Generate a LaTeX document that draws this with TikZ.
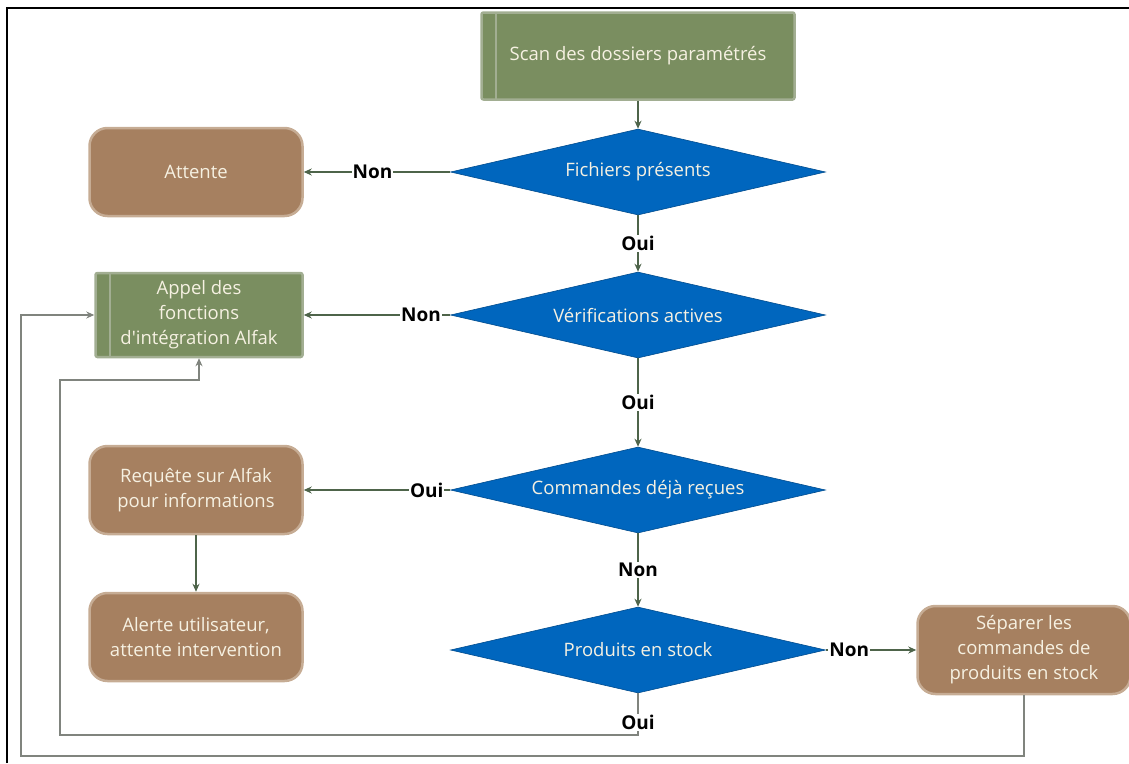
\documentclass[tikz,border=0pt]{standalone}
\usepackage{fontspec}
\setmainfont{Open Sans}
\usetikzlibrary{shapes.geometric,arrows.meta}

\definecolor{boxgreen}{RGB}{122,142,96}
\definecolor{greenedge}{RGB}{162,174,146}
\definecolor{boxbrown}{RGB}{166,128,96}
\definecolor{brownedge}{RGB}{198,172,148}
\definecolor{deciblue}{RGB}{0,102,190}
\definecolor{boxtext}{RGB}{246,241,226}
\definecolor{linkgreen}{RGB}{78,100,74}
\definecolor{loopgray}{RGB}{128,132,126}

\begin{document}
\begin{tikzpicture}
 [x=1pt, y=-1pt,
  process node/.style={rectangle, fill=boxgreen, draw=greenedge, line width=2.5pt, rounded corners=2pt,
    text=boxtext, font=\fontsize{18.5}{25}\selectfont, align=center, inner sep=0pt,
    path picture={\draw[greenedge, line width=2pt] ([xshift=14pt]path picture bounding box.north west) -- ([xshift=14pt]path picture bounding box.south west);}},
  wait node/.style={rectangle, rounded corners=18pt, fill=boxbrown, draw=brownedge, line width=2.5pt,
    text=boxtext, font=\fontsize{18.5}{25}\selectfont, align=center, inner sep=0pt,
    minimum width=213pt, minimum height=88pt},
  test node/.style={diamond, aspect=4.4, fill=deciblue, draw=deciblue!75!black, line width=0.6pt,
    minimum width=375pt, minimum height=86pt, inner sep=0pt, text=boxtext, font=\fontsize{18.5}{22}\selectfont},
  answer/.style={fill=white, inner sep=1pt, font=\bfseries\fontsize{19}{22}\selectfont},
  link/.style={draw=linkgreen, line width=1.2pt, -{Stealth[length=8pt,width=7pt]}},
  back link/.style={draw=loopgray, line width=1.2pt, -{Stealth[length=8pt,width=7pt,fill=linkgreen]}}]

\useasboundingbox (0,0) rectangle (1129,763);
\draw[line width=2.5pt] (7,763) -- (7,8) -- (1129,8);

\node[process node, minimum width=313pt, minimum height=87pt] (scan) at (638,56) {Scan des dossiers paramétrés};
\node[test node] (d1) [node distance=116pt, below of=scan] {Fichiers présents};
\node[test node] (d2) [node distance=143pt, below of=d1] {Vérifications actives};
\node[test node] (d3) [node distance=175pt, below of=d2] {Commandes déjà reçues};
\node[test node] (d4) [node distance=160pt, below of=d3] {Produits en stock};

\node[wait node] (attente) [node distance=442pt, left of=d1] {Attente};
\node[process node, minimum width=207pt, minimum height=84pt] (appel) [node distance=439pt, left of=d2]
  {Appel des\\fonctions\\d\textquotesingle intégration Alfak};
\node[wait node] (requete) [node distance=442pt, left of=d3] {Requête sur Alfak\\pour informations};
\node[wait node] (alerte) [node distance=147pt, below of=requete] {Alerte utilisateur,\\attente intervention};
\node[wait node] (separer) [node distance=386pt, right of=d4] {Séparer les\\commandes de\\produits en stock};

\coordinate (inner corner) at (638,735);
\coordinate (inner left) at (60,380);
\coordinate (outer corner) at (21,756);
\coordinate (outer top) at (21,315);

\path
  (scan) edge [link] (d1)
  (d1) edge [link] node [answer] {Oui} (d2)
  (d2) edge [link] node [answer] {Oui} (d3)
  (d3) edge [link] node [answer] {Non} (d4)
  (d1) edge [link] node [answer, pos=0.53] {Non} (attente)
  (d2) edge [link] node [answer, pos=0.2] {Non} (appel)
  (d3) edge [link] node [answer, pos=0.16] {Oui} (requete)
  (requete) edge [link] (alerte)
  (d4) edge [link] node [answer, pos=0.26] {Non} (separer);

\draw[back link] (d4.south) -- node [answer, pos=0.7] {Oui} (inner corner) -| (inner left) -| (appel.south);
\draw[back link] (separer.south) |- (outer corner) -- (outer top) -- (appel.west);

\end{tikzpicture}
\end{document}
